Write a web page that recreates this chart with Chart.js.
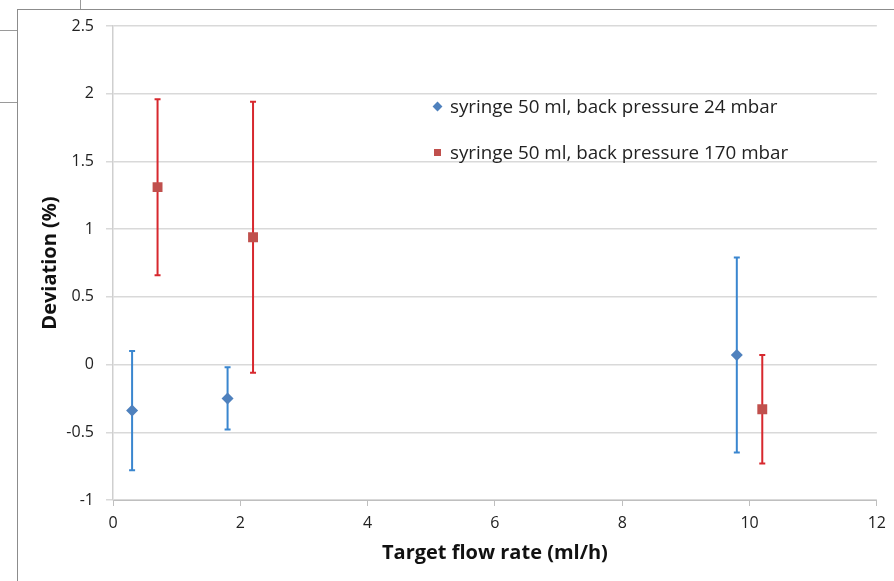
<!DOCTYPE html>
<html>
<head>
<meta charset="utf-8">
<script src="https://cdn.jsdelivr.net/npm/chart.js@4.4.1/dist/chart.umd.min.js"></script>
<style>
  body { margin: 0; background: #fff; }
  #wrap { position: relative; width: 894px; height: 581px; overflow: hidden; }
  #frame { position: absolute; left: 17px; top: 9px; right: -2px; bottom: -2px; border-left: 1px solid #8c8c8c; border-top: 1px solid #8c8c8c; }
  .stub { position: absolute; background: #9a9a9a; }
  #legend { position: absolute; left: 434px; top: 93px; font-family: "Open Sans", sans-serif; font-size: 18.8px; color: #222; }
  #legend div { height: 46px; line-height: 26px; white-space: nowrap; }
  .mk { display: inline-block; width: 7px; height: 7px; margin-right: 9px; vertical-align: 3px; }
</style>
</head>
<body>
<div id="wrap">
  <canvas id="myChart" width="894" height="581"></canvas>
  <div id="frame"></div>
  <div class="stub" style="left:0;top:30px;width:17px;height:1px"></div>
  <div class="stub" style="left:0;top:102px;width:17px;height:1px"></div>
  <div class="stub" style="left:80px;top:0;width:1px;height:9px"></div>
  <div id="legend"></div>
</div>
<script>
const labelBlue = "syringe 50 ml, back pressure 24 mbar";
const flowBlue = [0.3, 1.8, 9.8];
const devBlue = [-0.34, -0.25, 0.07];
const errBlue = [0.44, 0.23, 0.72];

const labelRed = "syringe 50 ml, back pressure 170 mbar";
const flowRed = [0.7, 2.2, 10.2];
const devRed = [1.31, 0.94, -0.33];
const errRed = [0.65, 1.0, 0.40];

const errors = [errBlue, errRed];
const barColors = ['#3a86cf', '#d7282e'];

const ctx = document.getElementById('myChart').getContext("2d");

// whiskers drawn under the markers
const errorBars = {
  id: 'errorBars',
  beforeDatasetsDraw(chart) {
    const c = chart.ctx;
    const y = chart.scales.y;
    chart.data.datasets.forEach((ds, i) => {
      const meta = chart.getDatasetMeta(i);
      c.save();
      c.strokeStyle = barColors[i];
      c.lineWidth = 2;
      meta.data.forEach((pt, j) => {
        const v = ds.data[j].y;
        const top = y.getPixelForValue(v + errors[i][j]);
        const bot = y.getPixelForValue(v - errors[i][j]);
        c.beginPath();
        c.moveTo(pt.x, top); c.lineTo(pt.x, bot);
        c.moveTo(pt.x - 3, top); c.lineTo(pt.x + 3, top);
        c.moveTo(pt.x - 3, bot); c.lineTo(pt.x + 3, bot);
        c.stroke();
      });
      c.restore();
    });
  }
};

function toPoints(xs, ys) {
  return xs.map((x, i) => ({ x: x, y: ys[i] }));
}

new Chart(ctx, {
  type: 'scatter',
  data: {
    datasets: [{
      label: labelBlue,
      data: toPoints(flowBlue, devBlue),
      pointStyle: 'rectRot',
      pointRadius: 6,
      backgroundColor: '#4f81bd',
      borderColor: '#4f81bd',
      borderWidth: 0
    }, {
      label: labelRed,
      data: toPoints(flowRed, devRed),
      pointStyle: 'rect',
      pointRadius: 7,
      backgroundColor: '#c0504d',
      borderColor: '#c0504d',
      borderWidth: 0
    }]
  },
  options: {
    responsive: false,
    animation: false,
    layout: { padding: { left: 0, right: 16, top: 26, bottom: 0 } },
    plugins: {
      legend: { display: false },
      tooltip: { enabled: false }
    },
    scales: {
      x: {
        type: 'linear',
        min: 0, max: 12,
        ticks: { stepSize: 2, padding: 8, color: '#222', font: { family: 'Open Sans', size: 16 } },
        grid: { drawOnChartArea: false, drawTicks: true, tickLength: 6, color: '#bfbfbf' },
        border: { color: '#bfbfbf', width: 1 },
        title: { display: true, text: 'Target flow rate (ml/h)', color: '#111',
                 font: { family: 'Open Sans', size: 20, weight: 'bold' }, padding: { top: 0, bottom: 16 } },
        afterFit(scale) { scale.height = 81; }
      },
      y: {
        min: -1, max: 2.5,
        ticks: { stepSize: 0.5, padding: 12, color: '#222', font: { family: 'Open Sans', size: 16 },
                 callback: (v) => String(v) },
        grid: { color: '#d9d9d9', lineWidth: 1.5, tickLength: 7 },
        border: { color: '#cfcfcf', width: 1.5 },
        title: { display: true, text: 'Deviation (%)', color: '#111',
                 font: { family: 'Open Sans', size: 20, weight: 'bold' }, padding: { top: 38, bottom: 0 } },
        afterFit(scale) { scale.width = 113; }
      }
    }
  },
  plugins: [errorBars]
});

// legend inside the plot area, as in the original
const legendItems = [[labelBlue, '#4f81bd', true], [labelRed, '#c0504d', false]];
const legendEl = document.getElementById('legend');
legendItems.forEach(([text, color, diamond]) => {
  const row = document.createElement('div');
  const mk = document.createElement('span');
  mk.className = 'mk';
  mk.style.background = color;
  if (diamond) mk.style.transform = 'rotate(45deg)';
  row.appendChild(mk);
  row.appendChild(document.createTextNode(text));
  legendEl.appendChild(row);
});
</script>
</body>
</html>
